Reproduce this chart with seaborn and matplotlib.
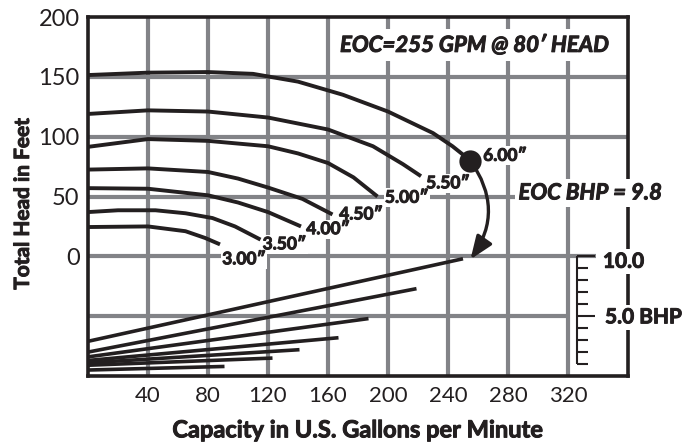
import numpy as np
import pandas as pd
import seaborn as sns
import matplotlib.pyplot as plt
import matplotlib.patheffects as pe
from matplotlib.patches import FancyArrowPatch

sns.set_theme(style="white")
plt.rcParams['font.family'] = ['Lato', 'DejaVu Sans']

# impeller sizes and head curves (GPM vs head in feet)
sizes = ['3.00″', '3.50″', '4.00″', '4.50″', '5.00″', '5.50″', '6.00″']
gpm_300 = [0, 40, 65, 78, 88]
head_300 = [24.5, 25, 21, 15.4, 10]
gpm_350 = [0, 20, 45, 65, 83, 98, 115]
head_350 = [37, 38.5, 38.5, 36, 32, 25, 14]
gpm_400 = [0, 40, 80, 100, 120, 142]
head_400 = [57, 56.5, 51, 45, 37, 25]
gpm_450 = [0, 40, 80, 100, 120, 143, 163]
head_450 = [72.5, 73.5, 70.5, 65, 57.5, 48, 35]
gpm_500 = [0, 40, 80, 120, 140, 160, 177, 193]
head_500 = [91.5, 98, 96.5, 92, 86, 78, 66, 50]
gpm_550 = [0, 40, 80, 120, 160, 190, 210, 222]
head_550 = [119, 122, 121, 116, 106, 92, 77, 67]
gpm_600 = [0, 40, 80, 110, 140, 170, 200, 230, 243, 255]
head_600 = [151.5, 153.5, 154, 152.5, 146, 135, 121, 103, 92, 80]

# brake horsepower lines (start at 0 GPM, end at the end GPM)
bhp_end_gpm = [91, 123, 141, 167, 187, 219, 250]
bhp_start = [0.5, 0.9, 1.1, 1.3, 1.6, 2.0, 2.9]
bhp_end = [0.8, 1.5, 2.2, 3.2, 4.8, 7.3, 9.8]

eoc_gpm = 255
eoc_head = 80
eoc_bhp = 9.8

xticks = [40, 80, 120, 160, 200, 240, 280, 320]
yticks = [0, 50, 100, 150, 200]
bhp_ticks = [1, 2, 3, 4, 5, 6, 7, 8, 9, 10]

# label positions for the size tags
label_pos = [(104, -2.5), (131, 10), (160, 22.7), (182, 35), (212.5, 49), (240, 61), (278, 84)]


def bhp_to_y(b):
    # lower part of chart: 0 BHP at bottom (-100), 10 BHP at head 0
    return -100 + 10 * np.asarray(b)


curves = [(gpm_300, head_300), (gpm_350, head_350), (gpm_400, head_400), (gpm_450, head_450),
          (gpm_500, head_500), (gpm_550, head_550), (gpm_600, head_600)]
head_df = pd.concat([pd.DataFrame({'gpm': g, 'head': h, 'size': s})
                     for s, (g, h) in zip(sizes, curves)], ignore_index=True)
bhp_df = pd.concat([pd.DataFrame({'gpm': [0, e], 'y': bhp_to_y([b0, b1]), 'size': s})
                    for s, e, b0, b1 in zip(sizes, bhp_end_gpm, bhp_start, bhp_end)], ignore_index=True)

ink = '#231f20'
gc = '#828387'
heavy = 'bold'
# thin outline in the text colour to get closer to the heavy face of the original
thick = [pe.withStroke(linewidth=0.7, foreground=ink)]

fig, ax = plt.subplots(figsize=(6.99, 4.43), dpi=100)
fig.subplots_adjust(left=0.1259, right=0.8984, bottom=0.1512, top=0.9616)
ax.set_xlim(0, 360)
ax.set_ylim(-100, 200)

# grid
ax.vlines(xticks, -100, 200, color=gc, lw=3, zorder=1)
ax.hlines([50, 100, 150], 0, 360, color=gc, lw=3, zorder=1)
ax.hlines(0, 0, 339, color=gc, lw=3, zorder=1)
ax.hlines(-50, 0, 320, color=gc, lw=3, zorder=1)

sns.lineplot(data=head_df, x='gpm', y='head', units='size', estimator=None, sort=False,
             color=ink, lw=2.8, ax=ax, zorder=4)
sns.lineplot(data=bhp_df, x='gpm', y='y', units='size', estimator=None, sort=False,
             color=ink, lw=2.6, ax=ax, zorder=4)
for line in ax.get_lines():
    line.set_solid_capstyle('butt')
    line.set_solid_joinstyle('round')

sns.scatterplot(x=[eoc_gpm], y=[eoc_head], s=220, color=ink, edgecolor=ink, ax=ax, zorder=5)
arr = FancyArrowPatch((eoc_gpm, eoc_head), (eoc_gpm, bhp_to_y(eoc_bhp) - 0.5),
                      connectionstyle='arc3,rad=-0.35',
                      arrowstyle='-|>,head_length=1.4,head_width=0.55',
                      mutation_scale=10, lw=2.4, color=ink, shrinkA=0, shrinkB=0, zorder=5)
ax.add_patch(arr)

# white boxes first (blank text), then the labels on top so boxes never hide a neighbour
box = dict(boxstyle='square,pad=0.08', fc='white', ec='none')
for s, (x, y) in zip(sizes, label_pos):
    ax.text(x, y, s, fontsize=12.5, weight=heavy, color='none', ha='center', va='center',
            bbox=box, zorder=3)
for s, (x, y) in zip(sizes, label_pos):
    ax.text(x, y, s, fontsize=12.5, weight=heavy, color=ink, ha='center', va='center',
            zorder=3.2, path_effects=thick)

ax.text(168, 176.5, f'EOC={eoc_gpm} GPM @ {eoc_head}′ HEAD', fontsize=16, weight=heavy,
        style='italic', color=ink, ha='left', va='center', path_effects=thick,
        bbox=dict(boxstyle='square,pad=0.25', fc='white', ec='none'), zorder=3)
ax.text(287, 53, f'EOC BHP = {eoc_bhp}', fontsize=16, weight=heavy, style='italic',
        color=ink, ha='left', va='center', clip_on=False, path_effects=thick,
        bbox=dict(boxstyle='square,pad=0.15', fc='white', ec='none'), zorder=3)

# BHP scale on the right
ax.vlines(326, bhp_to_y(1), bhp_to_y(10), color=ink, lw=1.5, zorder=4)
for b in bhp_ticks:
    ax.hlines(bhp_to_y(b), 326, 338 if b % 5 == 0 else 333.3, color=ink, lw=1.5, zorder=4)
ax.text(343.3, -4.5, '10.0', fontsize=15, weight=heavy, color=ink, ha='left', va='center',
        clip_on=False, path_effects=thick,
        bbox=dict(boxstyle='square,pad=0.12', fc='white', ec='none'), zorder=3)
ax.text(344.7, -51, '5.0 BHP', fontsize=15, weight=heavy, color=ink, ha='left', va='center',
        clip_on=False, path_effects=thick,
        bbox=dict(boxstyle='square,pad=0.12', fc='white', ec='none'), zorder=3)

for sp in ax.spines.values():
    sp.set_linewidth(2.6)
    sp.set_color(ink)

ax.set_xticks(xticks)
ax.set_yticks(yticks)
ax.tick_params(axis='x', length=0, labelsize=16, pad=7, labelcolor=ink)
ax.tick_params(axis='y', length=0, labelsize=17, pad=6, labelcolor=ink)
ax.set_xlabel('Capacity in U.S. Gallons per Minute', fontsize=17, weight=heavy, color=ink,
              path_effects=thick)
ax.set_ylabel('Total Head in Feet', fontsize=15, weight=heavy, color=ink, path_effects=thick)
ax.xaxis.set_label_coords(0.5, -0.118)
ax.yaxis.set_label_coords(-0.102, 0.48)

fig.savefig('out.png', dpi=100)
